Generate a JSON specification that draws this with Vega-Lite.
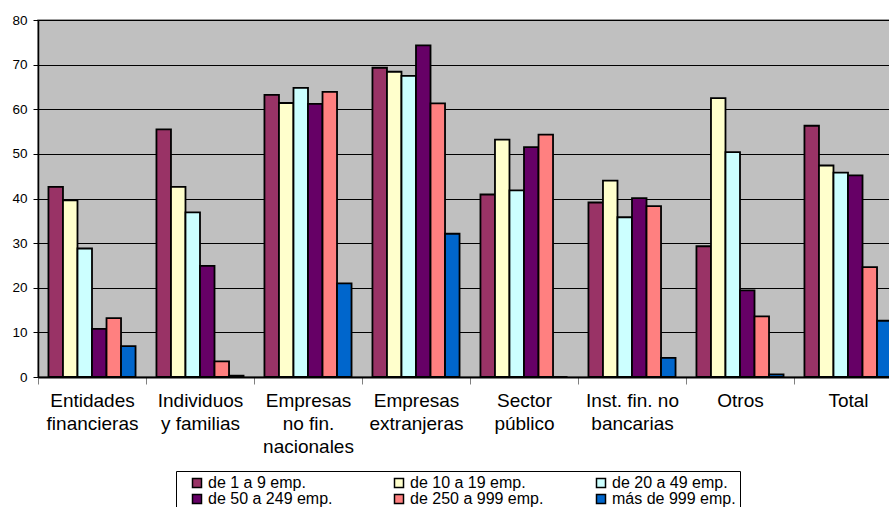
{
  "$schema": "https://vega.github.io/schema/vega-lite/v6.json",
  "width": 864,
  "height": 357,
  "autosize": {"type": "none"},
  "padding": {"left": 38, "top": 20, "right": -13, "bottom": 130},
  "background": "white",
  "config": {
    "view": {"fill": "#C0C0C0", "stroke": "#808080", "strokeWidth": 1.5},
    "font": "Liberation Sans"
  },
  "data": {
    "values": [
      {"cat": "Entidades financieras", "size": "de 1 a 9 emp.", "value": 42.6},
      {"cat": "Entidades financieras", "size": "de 10 a 19 emp.", "value": 39.6},
      {"cat": "Entidades financieras", "size": "de 20 a 49 emp.", "value": 28.8},
      {"cat": "Entidades financieras", "size": "de 50 a 249 emp.", "value": 10.8},
      {"cat": "Entidades financieras", "size": "de 250 a 999 emp.", "value": 13.2},
      {"cat": "Entidades financieras", "size": "más de 999 emp.", "value": 6.9},
      {"cat": "Individuos y familias", "size": "de 1 a 9 emp.", "value": 55.5},
      {"cat": "Individuos y familias", "size": "de 10 a 19 emp.", "value": 42.6},
      {"cat": "Individuos y familias", "size": "de 20 a 49 emp.", "value": 36.9},
      {"cat": "Individuos y familias", "size": "de 50 a 249 emp.", "value": 24.9},
      {"cat": "Individuos y familias", "size": "de 250 a 999 emp.", "value": 3.5},
      {"cat": "Individuos y familias", "size": "más de 999 emp.", "value": 0.3},
      {"cat": "Empresas no fin. nacionales", "size": "de 1 a 9 emp.", "value": 63.2},
      {"cat": "Empresas no fin. nacionales", "size": "de 10 a 19 emp.", "value": 61.4},
      {"cat": "Empresas no fin. nacionales", "size": "de 20 a 49 emp.", "value": 64.8},
      {"cat": "Empresas no fin. nacionales", "size": "de 50 a 249 emp.", "value": 61.2},
      {"cat": "Empresas no fin. nacionales", "size": "de 250 a 999 emp.", "value": 63.9},
      {"cat": "Empresas no fin. nacionales", "size": "más de 999 emp.", "value": 21.0},
      {"cat": "Empresas extranjeras", "size": "de 1 a 9 emp.", "value": 69.3},
      {"cat": "Empresas extranjeras", "size": "de 10 a 19 emp.", "value": 68.4},
      {"cat": "Empresas extranjeras", "size": "de 20 a 49 emp.", "value": 67.5},
      {"cat": "Empresas extranjeras", "size": "de 50 a 249 emp.", "value": 74.3},
      {"cat": "Empresas extranjeras", "size": "de 250 a 999 emp.", "value": 61.3},
      {"cat": "Empresas extranjeras", "size": "más de 999 emp.", "value": 32.1},
      {"cat": "Sector público", "size": "de 1 a 9 emp.", "value": 40.9},
      {"cat": "Sector público", "size": "de 10 a 19 emp.", "value": 53.2},
      {"cat": "Sector público", "size": "de 20 a 49 emp.", "value": 41.8},
      {"cat": "Sector público", "size": "de 50 a 249 emp.", "value": 51.5},
      {"cat": "Sector público", "size": "de 250 a 999 emp.", "value": 54.3},
      {"cat": "Sector público", "size": "más de 999 emp.", "value": 0},
      {"cat": "Inst. fin. no bancarias", "size": "de 1 a 9 emp.", "value": 39.1},
      {"cat": "Inst. fin. no bancarias", "size": "de 10 a 19 emp.", "value": 44.0},
      {"cat": "Inst. fin. no bancarias", "size": "de 20 a 49 emp.", "value": 35.8},
      {"cat": "Inst. fin. no bancarias", "size": "de 50 a 249 emp.", "value": 40.1},
      {"cat": "Inst. fin. no bancarias", "size": "de 250 a 999 emp.", "value": 38.3},
      {"cat": "Inst. fin. no bancarias", "size": "más de 999 emp.", "value": 4.3},
      {"cat": "Otros", "size": "de 1 a 9 emp.", "value": 29.3},
      {"cat": "Otros", "size": "de 10 a 19 emp.", "value": 62.5},
      {"cat": "Otros", "size": "de 20 a 49 emp.", "value": 50.4},
      {"cat": "Otros", "size": "de 50 a 249 emp.", "value": 19.4},
      {"cat": "Otros", "size": "de 250 a 999 emp.", "value": 13.6},
      {"cat": "Otros", "size": "más de 999 emp.", "value": 0.6},
      {"cat": "Total", "size": "de 1 a 9 emp.", "value": 56.3},
      {"cat": "Total", "size": "de 10 a 19 emp.", "value": 47.4},
      {"cat": "Total", "size": "de 20 a 49 emp.", "value": 45.8},
      {"cat": "Total", "size": "de 50 a 249 emp.", "value": 45.2},
      {"cat": "Total", "size": "de 250 a 999 emp.", "value": 24.6},
      {"cat": "Total", "size": "más de 999 emp.", "value": 12.6}
    ]
  },
  "mark": {"type": "bar", "stroke": "black", "strokeWidth": 1.8},
  "encoding": {
    "x": {
      "field": "cat",
      "type": "nominal",
      "sort": ["Entidades financieras", "Individuos y familias", "Empresas no fin. nacionales", "Empresas extranjeras", "Sector público", "Inst. fin. no bancarias", "Otros", "Total"],
      "scale": {"paddingInner": 0, "paddingOuter": 0},
      "axis": {
        "title": null,
        "labelAngle": 0,
        "labelAlign": "center",
        "labelBaseline": "top",
        "labelFont": "Liberation Sans",
        "labelFontSize": 19,
        "labelLineHeight": 23,
        "labelPadding": 7,
        "labelColor": "black",
        "labelLimit": 200,
        "tickBand": "extent",
        "tickSize": 7,
        "tickColor": "#808080",
        "domainColor": "black",
        "domainWidth": 2,
        "labelExpr": "datum.value == 'Entidades financieras' ? ['Entidades','financieras'] : datum.value == 'Individuos y familias' ? ['Individuos','y familias'] : datum.value == 'Empresas no fin. nacionales' ? ['Empresas','no fin.','nacionales'] : datum.value == 'Empresas extranjeras' ? ['Empresas','extranjeras'] : datum.value == 'Sector público' ? ['Sector','público'] : datum.value == 'Inst. fin. no bancarias' ? ['Inst. fin.  no','bancarias'] : datum.value"
      }
    },
    "xOffset": {
      "field": "size",
      "type": "nominal",
      "sort": ["de 1 a 9 emp.", "de 10 a 19 emp.", "de 20 a 49 emp.", "de 50 a 249 emp.", "de 250 a 999 emp.", "más de 999 emp."],
      "scale": {"paddingInner": 0, "paddingOuter": 0.72}
    },
    "y": {
      "field": "value",
      "type": "quantitative",
      "scale": {"domain": [0, 80], "nice": false},
      "axis": {
        "title": null,
        "values": [0, 10, 20, 30, 40, 50, 60, 70, 80],
        "grid": true,
        "gridColor": "black",
        "gridWidth": 1,
        "domainColor": "black",
        "domainWidth": 1.5,
        "tickColor": "black",
        "tickSize": 5,
        "labelFontSize": 13.5,
        "labelPadding": 6,
        "labelColor": "black"
      }
    },
    "color": {
      "field": "size",
      "type": "nominal",
      "sort": ["de 1 a 9 emp.", "de 10 a 19 emp.", "de 20 a 49 emp.", "de 50 a 249 emp.", "de 250 a 999 emp.", "más de 999 emp."],
      "scale": {
        "domain": ["de 1 a 9 emp.", "de 10 a 19 emp.", "de 20 a 49 emp.", "de 50 a 249 emp.", "de 250 a 999 emp.", "más de 999 emp."],
        "range": ["#993366", "#FFFFCC", "#CCFFFF", "#660066", "#FF8080", "#0066CC"]
      },
      "legend": {
        "title": " ",
        "titleOrient": "left",
        "titlePadding": 9,
        "titleFontSize": 8,
        "orient": "none",
        "legendX": 138,
        "legendY": 451,
        "direction": "horizontal",
        "columns": 3,
        "gridAlign": "all",
        "columnPadding": 49,
        "rowPadding": 0,
        "symbolType": "square",
        "symbolSize": 81,
        "symbolStrokeColor": "black",
        "symbolStrokeWidth": 1.5,
        "symbolOpacity": 1,
        "labelFontSize": 16,
        "labelOffset": 3,
        "labelColor": "black",
        "labelLimit": 300,
        "strokeColor": "black",
        "fillColor": "white",
        "padding": 4
      }
    }
  }
}
